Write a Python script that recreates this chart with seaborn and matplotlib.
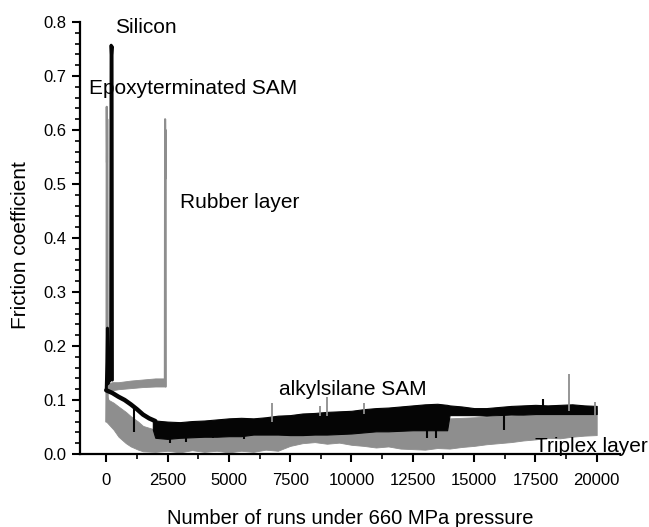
import matplotlib
matplotlib.use("Agg")
import matplotlib.pyplot as plt
import seaborn as sns
from matplotlib.ticker import MultipleLocator

# ---------------- data ----------------
# Silicon (black, short run ending in a spike)
silicon_x = [0, 30, 50, 70, 100, 140, 180, 200, 215, 235, 250]
silicon_y = [0.118, 0.17, 0.233, 0.13, 0.145, 0.135, 0.14, 0.757, 0.74, 0.755, 0.137]

# Epoxyterminated SAM (grey, early failure spike)
epoxy_x = [0, 10, 20, 30, 40, 50, 60]
epoxy_y = [0.06, 0.11, 0.643, 0.54, 0.62, 0.55, 0.10]

# Rubber layer (grey band, failure spike at ~2400 runs)
rubber_x = [0, 250, 500, 1000, 1500, 2000, 2400]
rubber_lo = [0.115, 0.118, 0.120, 0.122, 0.124, 0.125, 0.125]
rubber_hi = [0.130, 0.133, 0.133, 0.136, 0.138, 0.140, 0.140]
rubber_spike_x = [2390, 2400, 2410, 2420, 2430]
rubber_spike_y = [0.13, 0.62, 0.51, 0.60, 0.125]

# Triplex layer (grey noisy band)
triplex_x = [0, 100, 300, 500, 800, 1000, 1300, 1500, 2000, 2500, 3000, 3500, 4000, 4500,
             5000, 5500, 6000, 6500, 7000, 7500, 8000, 8500, 9000, 9500, 10000, 10500,
             11000, 11500, 12000, 12500, 13000, 13500, 14000, 14500, 15000, 15500, 16000,
             16500, 17000, 17500, 18000, 18500, 19000, 19500, 20000]
triplex_hi = [0.110, 0.100, 0.095, 0.088, 0.078, 0.070, 0.060, 0.052, 0.045, 0.045, 0.045,
              0.046, 0.046, 0.048, 0.050, 0.051, 0.052, 0.054, 0.055, 0.056, 0.057, 0.057,
              0.058, 0.058, 0.058, 0.059, 0.060, 0.061, 0.062, 0.063, 0.064, 0.065, 0.066,
              0.067, 0.068, 0.069, 0.070, 0.071, 0.073, 0.074, 0.076, 0.077, 0.078, 0.080,
              0.082]
triplex_lo = [0.060, 0.055, 0.045, 0.032, 0.020, 0.014, 0.008, 0.005, 0.004, 0.006, 0.003,
              0.007, 0.004, 0.006, 0.003, 0.006, 0.004, 0.008, 0.006, 0.015, 0.020, 0.022,
              0.019, 0.021, 0.017, 0.015, 0.012, 0.014, 0.010, 0.009, 0.008, 0.011, 0.010,
              0.013, 0.015, 0.018, 0.020, 0.022, 0.025, 0.027, 0.030, 0.029, 0.032, 0.034,
              0.035]
triplex_spike_x = [6740, 8700, 8990, 10510, 18880, 19950]
triplex_spike_lo = [0.060, 0.070, 0.070, 0.075, 0.080, 0.070]
triplex_spike_hi = [0.095, 0.088, 0.106, 0.095, 0.148, 0.097]

# alkylsilane SAM (black: smooth start then noisy band)
alkyl_x = [0, 250, 500, 750, 1000, 1250, 1500, 1750, 2000]
alkyl_y = [0.118, 0.113, 0.106, 0.100, 0.092, 0.083, 0.073, 0.066, 0.061]
alkyl_band_x = [1900, 2000, 2500, 3000, 3500, 4000, 4500, 5000, 5500, 6000, 6500, 7000,
                7500, 8000, 8500, 9000, 9500, 10000, 10500, 11000, 11500, 12000, 12500,
                13000, 13500, 13900, 14000, 14500, 15000, 15500, 16000, 16500, 17000,
                17500, 18000, 18500, 19000, 19500, 20000]
alkyl_band_hi = [0.063, 0.062, 0.060, 0.059, 0.061, 0.062, 0.064, 0.066, 0.067, 0.066,
                 0.068, 0.071, 0.072, 0.075, 0.076, 0.078, 0.079, 0.080, 0.083, 0.085,
                 0.086, 0.088, 0.090, 0.092, 0.093, 0.091, 0.090, 0.088, 0.085, 0.085,
                 0.087, 0.089, 0.090, 0.091, 0.090, 0.091, 0.092, 0.090, 0.089]
alkyl_band_lo = [0.045, 0.030, 0.028, 0.030, 0.031, 0.032, 0.032, 0.033, 0.033, 0.036,
                 0.036, 0.036, 0.035, 0.035, 0.036, 0.036, 0.037, 0.038, 0.040, 0.042,
                 0.042, 0.043, 0.044, 0.044, 0.044, 0.044, 0.072, 0.072, 0.072, 0.071,
                 0.072, 0.073, 0.073, 0.074, 0.074, 0.074, 0.074, 0.074, 0.074]
alkyl_dip_x = [1150, 2600, 3250, 3700, 4350, 5600, 13100, 13450, 16200, 17800]
alkyl_dip_lo = [0.041, 0.020, 0.022, 0.030, 0.030, 0.028, 0.030, 0.030, 0.044, 0.080]
alkyl_dip_hi = [0.085, 0.040, 0.040, 0.040, 0.040, 0.040, 0.050, 0.050, 0.075, 0.101]

x_ticks = [0, 2500, 5000, 7500, 10000, 12500, 15000, 17500, 20000]
y_ticks = [0.0, 0.1, 0.2, 0.3, 0.4, 0.5, 0.6, 0.7, 0.8]

labels = ["Silicon", "Epoxyterminated SAM", "Rubber layer", "alkylsilane SAM", "Triplex layer"]
label_x = [359, -701, 3005, 7056, 17484]
label_y = [0.779, 0.666, 0.455, 0.109, 0.003]

# ---------------- style ----------------
sns.set_style("ticks")
plt.rcParams["font.family"] = ["Liberation Sans", "DejaVu Sans"]
plt.rcParams["text.color"] = "black"
plt.rcParams["axes.labelcolor"] = "black"
plt.rcParams["xtick.color"] = "black"
plt.rcParams["ytick.color"] = "black"

GREY = "#8e8e8e"
BLACK = "#050505"

fig = plt.figure(figsize=(6.49, 5.27), dpi=100)
ax = fig.add_axes([80 / 649, 73 / 527, 540 / 649, 432 / 527])

# Triplex layer
ax.fill_between(triplex_x, triplex_lo, triplex_hi, color=GREY, lw=0.6, edgecolor=GREY)
ax.vlines(triplex_spike_x, triplex_spike_lo, triplex_spike_hi, color=GREY, lw=1.3)

# Rubber layer
ax.fill_between(rubber_x, rubber_lo, rubber_hi, color=GREY, lw=0.6, edgecolor=GREY)
sns.lineplot(x=rubber_spike_x, y=rubber_spike_y, color=GREY, lw=1.5,
             estimator=None, sort=False, ax=ax)

# Epoxyterminated SAM
sns.lineplot(x=epoxy_x, y=epoxy_y, color=GREY, lw=1.5, estimator=None, sort=False, ax=ax)

# alkylsilane SAM
ax.fill_between(alkyl_band_x, alkyl_band_lo, alkyl_band_hi, color=BLACK, lw=0.8,
                edgecolor=BLACK)
sns.lineplot(x=alkyl_x, y=alkyl_y, color=BLACK, lw=3.2, estimator=None, sort=False, ax=ax)
ax.vlines(alkyl_dip_x, alkyl_dip_lo, alkyl_dip_hi, color=BLACK, lw=1.5)

# Silicon
sns.lineplot(x=silicon_x, y=silicon_y, color=BLACK, lw=2.2, estimator=None, sort=False, ax=ax)

for t, x, y in zip(labels, label_x, label_y):
    ax.text(x, y, t, fontsize=15, ha="left", va="baseline", color="black", clip_on=False)

ax.set_xlim(-1070, 20950)
ax.set_ylim(0, 0.8)
ax.set_xticks(x_ticks)
ax.set_yticks(y_ticks)
ax.set_xticklabels([str(v) for v in x_ticks])
ax.set_yticklabels([f"{v:.1f}" for v in y_ticks])
ax.xaxis.set_minor_locator(MultipleLocator(1250))
ax.yaxis.set_minor_locator(MultipleLocator(0.02))
ax.tick_params(axis="both", which="major", direction="out", length=6, width=1.5,
               labelsize=12, colors="black")
ax.tick_params(axis="both", which="minor", direction="out", length=3.5, width=1.2,
               colors="black")
ax.tick_params(axis="x", which="major", pad=7.5)
ax.tick_params(axis="y", which="major", pad=4)

sns.despine(ax=ax)
for s in ["left", "bottom"]:
    ax.spines[s].set_linewidth(1.6)
    ax.spines[s].set_color("black")

ax.set_xlabel("Number of runs under 660 MPa pressure", fontsize=14.5, color="black")
ax.set_ylabel("Friction coefficient", fontsize=15, color="black")
ax.xaxis.set_label_coords(0.5, -0.128)
ax.yaxis.set_label_coords(-0.111, 0.484)
ax.xaxis.label.set_va("top")
ax.yaxis.label.set_va("center")

fig.savefig("out.png", dpi=100)
